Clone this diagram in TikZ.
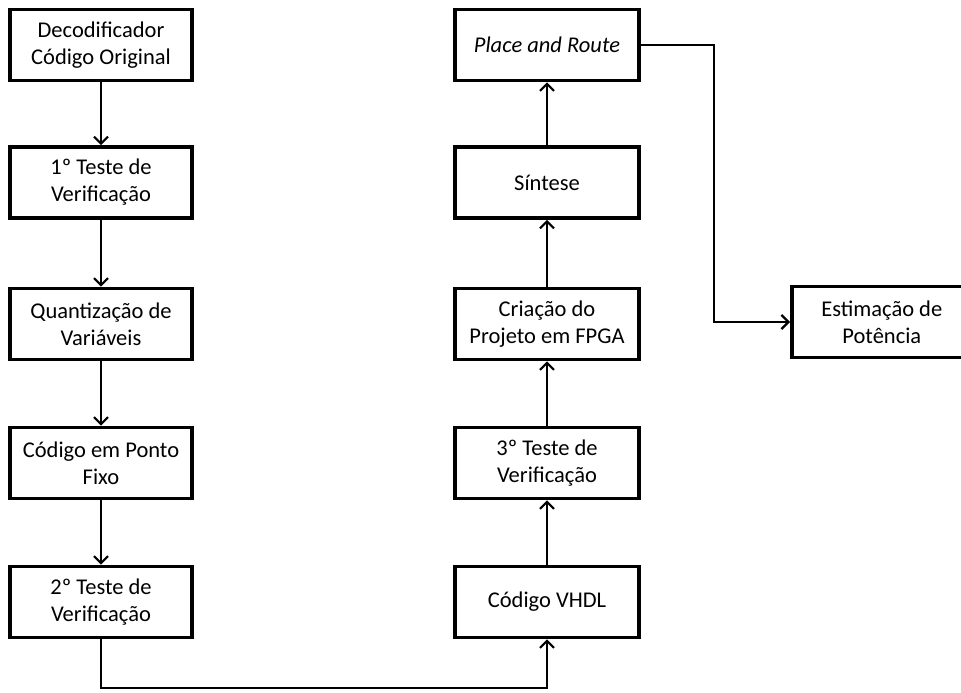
\documentclass[tikz,border=0pt]{standalone}
\usepackage{fontspec}
\setmainfont{Carlito}
\usetikzlibrary{arrows.meta}
\begin{document}
\begin{tikzpicture}[x=1pt,y=-1pt,
  box/.style={draw,line width=3.6pt,minimum width=182pt,minimum height=71pt,
    align=center,font=\fontsize{22.5}{27}\selectfont,inner sep=0pt},
  flow/.style={line width=2.2pt,-{Straight Barb[length=7pt,width=14pt,line width=2.2pt]}}]
\useasboundingbox (0,0) rectangle (961,693);
% left column
\node[box] (dec) at (101,45) {Decodificador\\Código Original};
\node[box] (t1) at (101,182.5) {1º Teste de\\Verificação};
\node[box] (quant) at (101,324) {Quantização de\\Variáveis};
\node[box] (fixo) at (101,463) {Código em Ponto\\Fixo};
\node[box] (t2) at (101,602) {2º Teste de\\Verificação};
% right column
\node[box,minimum width=184pt] (pr) at (547,45) {\itshape Place and Route};
\node[box,minimum width=184pt] (sint) at (547,182.5) {Síntese};
\node[box,minimum width=184pt] (fpga) at (547,324) {Criação do\\Projeto em FPGA};
\node[box,minimum width=184pt] (t3) at (547,463) {3º Teste de\\Verificação};
\node[box,minimum width=184pt] (vhdl) at (547,602) {Código VHDL};
% side box
\node[box,minimum width=180pt,anchor=west] (pot) at (790,322) {Estimação de\\Potência};
% connectors
\draw[flow] (dec) -- (t1);
\draw[flow] (t1) -- (quant);
\draw[flow] (quant) -- (fixo);
\draw[flow] (fixo) -- (t2);
\coordinate (b1) at (101,688);
\coordinate (b2) at (547,688);
\draw[flow] (t2) -- (b1) -- (b2) -- (vhdl);
\draw[flow] (vhdl) -- (t3);
\draw[flow] (t3) -- (fpga);
\draw[flow] (fpga) -- (sint);
\draw[flow] (sint) -- (pr);
\coordinate (c1) at (714,45);
\draw[flow] (pr) -- (c1) |- (pot);
\end{tikzpicture}
\end{document}
